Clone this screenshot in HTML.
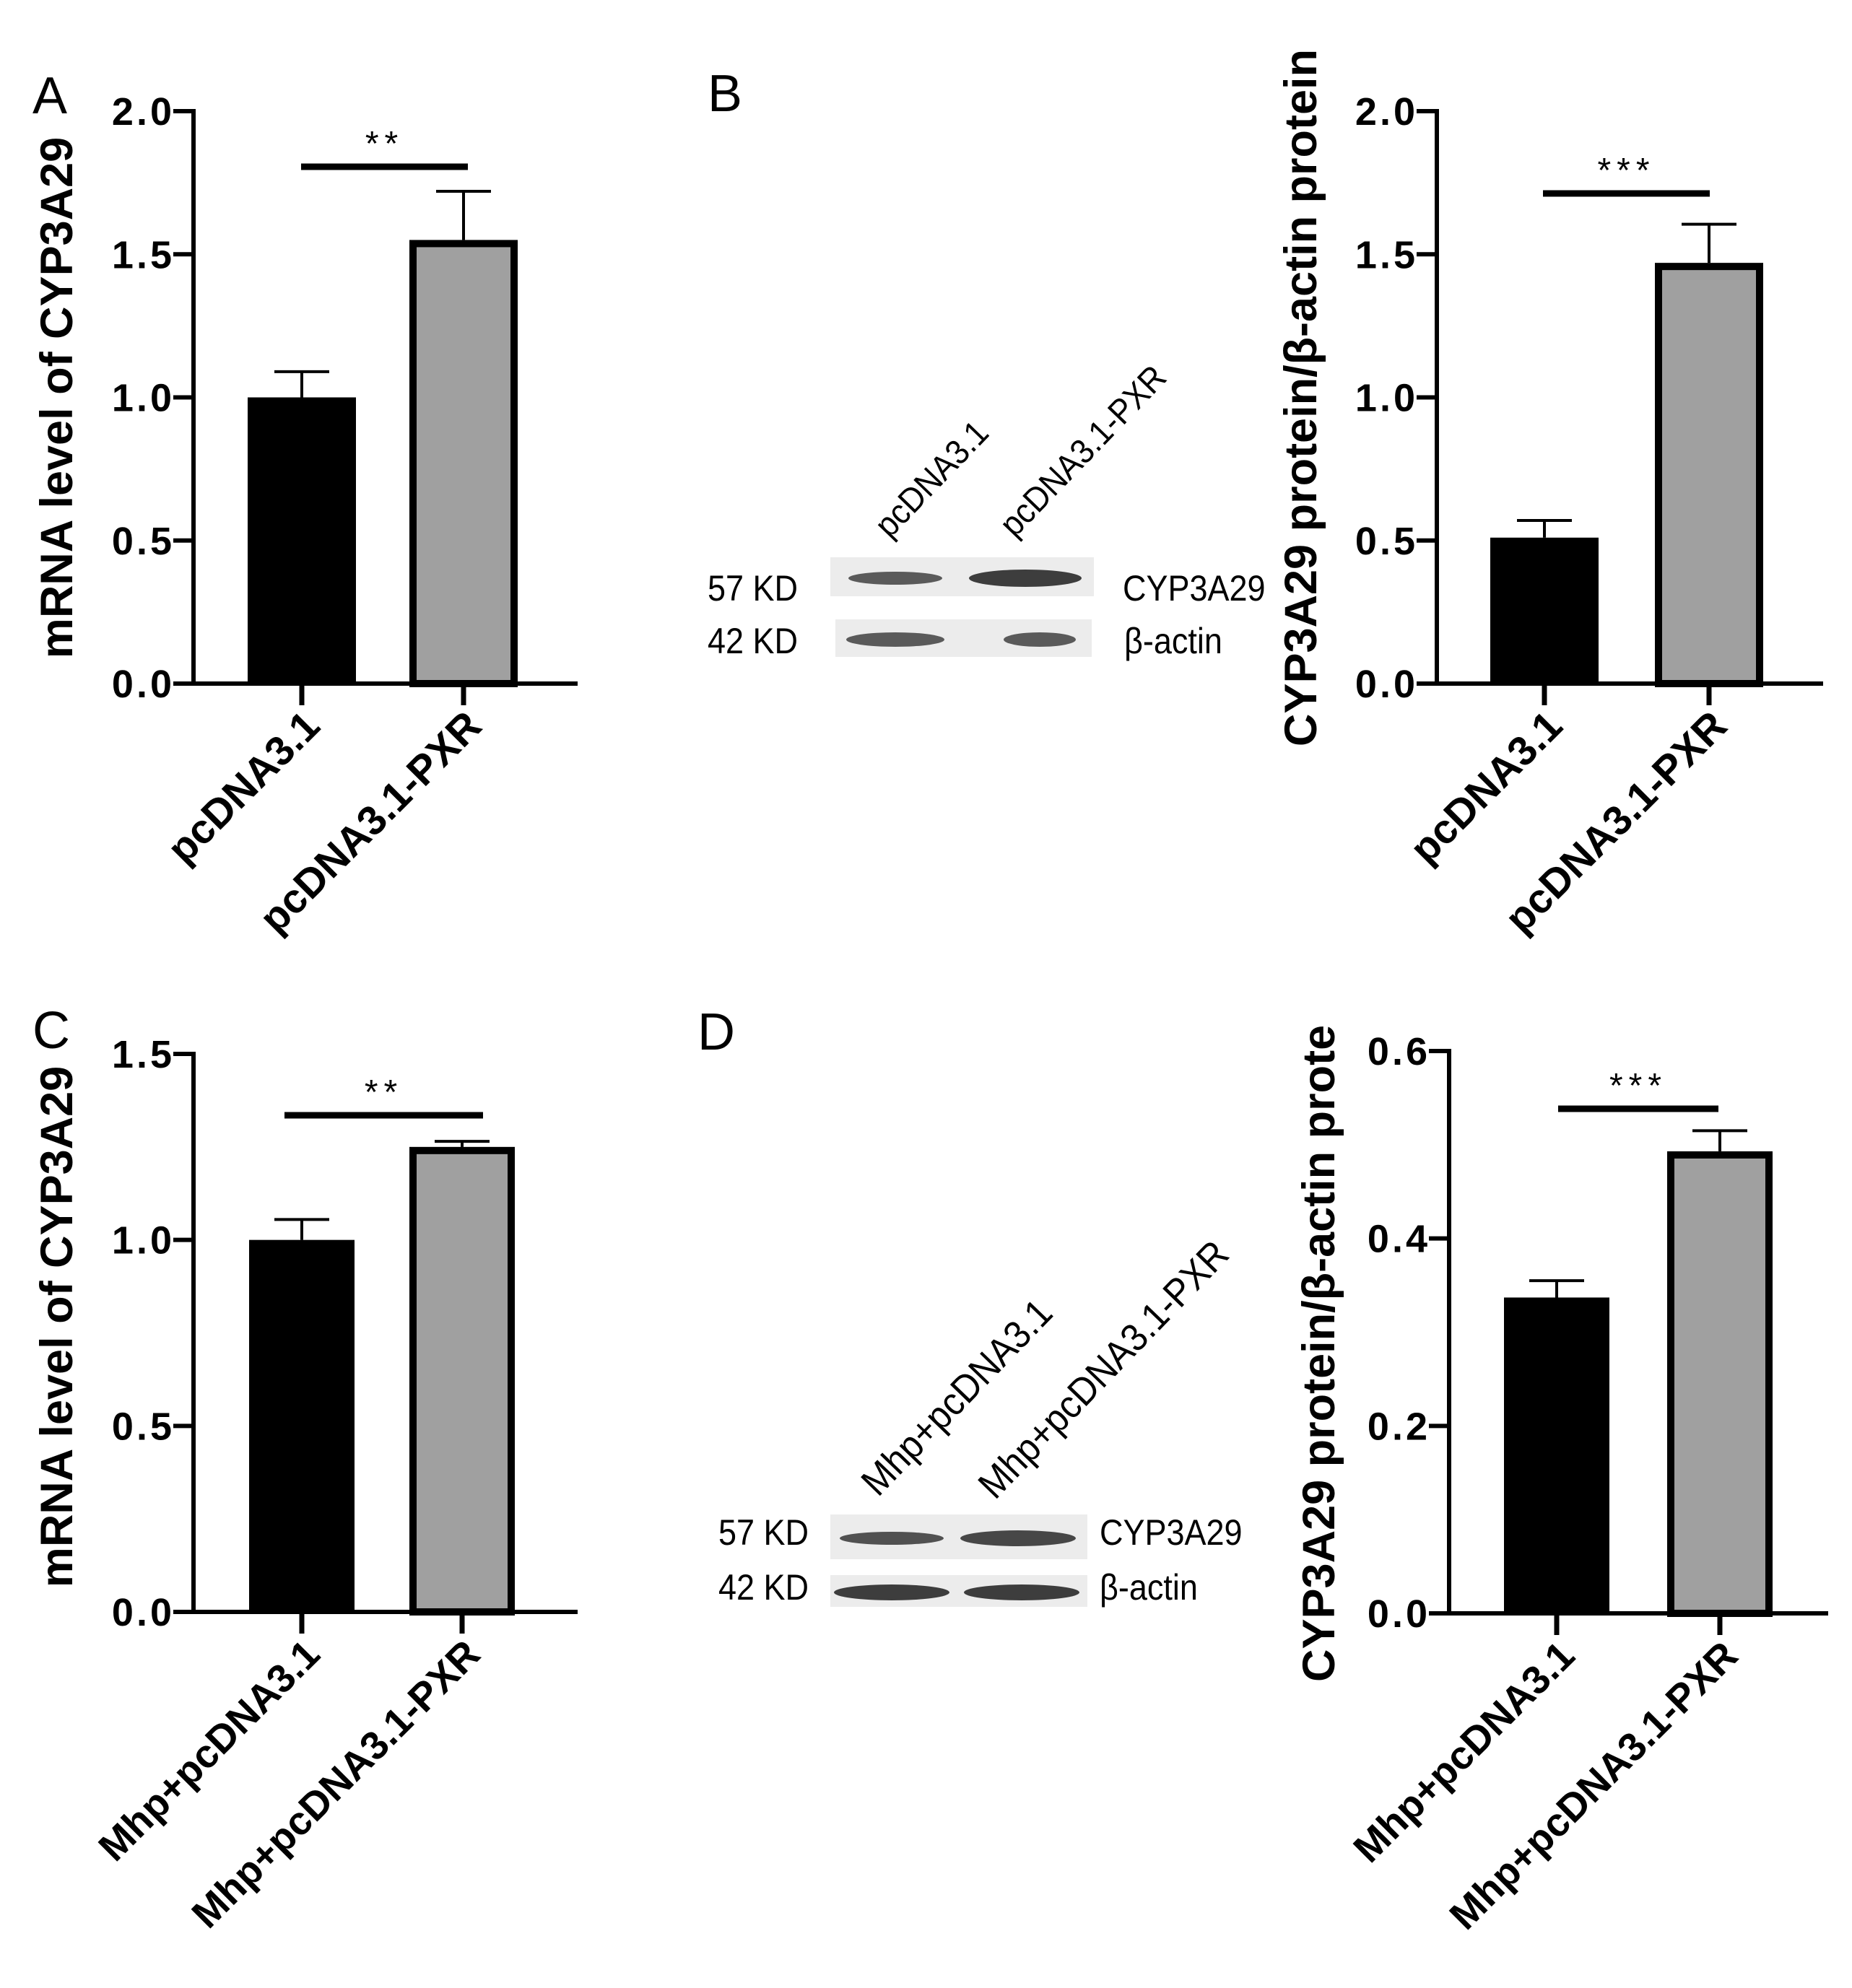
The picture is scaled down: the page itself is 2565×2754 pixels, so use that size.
<!DOCTYPE html>
<html><head><meta charset="utf-8"><style>
html,body{margin:0;padding:0;background:#fff}
svg{display:block}
.t{font-family:"Liberation Sans",Arial,sans-serif}
</style></head><body>
<svg id="fig" width="2565" height="2754" viewBox="0 0 2565 2754" xmlns="http://www.w3.org/2000/svg">
<rect width="2565" height="2754" fill="#fff"/>
<g id="charts"></g>
<g id="blots"></g>
</svg>
<script>
// Panel data
const categoriesAB = ["pcDNA3.1", "pcDNA3.1-PXR"];
const categoriesCD = ["Mhp+pcDNA3.1", "Mhp+pcDNA3.1-PXR"];
const valuesA = [1.0, 1.55];
const errorsA = [0.09, 0.17];
const valuesB = [0.51, 1.47];
const errorsB = [0.06, 0.135];
const valuesC = [1.0, 1.25];
const errorsC = [0.055, 0.015];
const valuesD = [0.337, 0.493];
const errorsD = [0.018, 0.022];
const ticksAB = [0, 0.5, 1.0, 1.5, 2.0];
const tickLabelsAB = ["0.0", "0.5", "1.0", "1.5", "2.0"];
const ticksC = [0, 0.5, 1.0, 1.5];
const tickLabelsC = ["0.0", "0.5", "1.0", "1.5"];
const ticksD = [0, 0.2, 0.4, 0.6];
const tickLabelsD = ["0.0", "0.2", "0.4", "0.6"];
const sigA = "**", sigB = "***", sigC = "**", sigD = "***";

const NS = "http://www.w3.org/2000/svg";
function mk(parent, tag, attrs, text){
  const e = document.createElementNS(NS, tag);
  for (const k in attrs) e.setAttribute(k, attrs[k]);
  if (text !== undefined) e.textContent = text;
  parent.appendChild(e);
  return e;
}
const root = document.getElementById("charts");

function chart(cfg){
  const g = mk(root, "g", {});
  
  
  const y = v => cfg.y0 - (v / cfg.max) * (cfg.y0 - cfg.yTop);
  cfg.values.forEach((v, i) => {
    const bx = cfg.barX[i], bw = cfg.barW;
    const cx = bx + bw / 2;
    const ey = y(v + cfg.errors[i]);
    const el = mk(g, "path", {d:`M${cx} ${y(v)} V${ey} M${cx-38} ${ey} H${cx+38}`, stroke:"#000", "stroke-width":4, fill:"none"});
    
    
    let r;
    if (i === 0) {
      r = mk(g, "rect", {x:bx, y:y(v), width:bw, height:cfg.y0 - y(v), fill:"#000"});
    } else {
      r = mk(g, "rect", {x:bx+5, y:y(v)+5, width:bw-10, height:cfg.y0 - y(v) - 5, fill:"#a0a0a0", stroke:"#000", "stroke-width":10});
    }
    
    
    mk(g, "line", {x1:cx, y1:cfg.y0, x2:cx, y2:cfg.y0+30, stroke:"#000", "stroke-width":7});
    const lx = cx + 28, ly = cfg.y0 + 62;
    const t = mk(g, "text", {x:lx, y:ly, "text-anchor":"end", "font-size":cfg.xfs, "font-weight":"bold", class:"t", transform:`rotate(-45 ${lx} ${ly})`}, cfg.cats[i]);
    
    
  });
  const ax = mk(g, "path", {d:`M${cfg.ax} ${cfg.yTop-3} V${cfg.y0} H${cfg.xEnd}`, stroke:"#000", "stroke-width":6, fill:"none"});
  
  
  cfg.ticks.forEach((tv, i) => {
    mk(g, "line", {x1:cfg.ax-28, y1:y(tv), x2:cfg.ax, y2:y(tv), stroke:"#000", "stroke-width":6});
    const tl = mk(g, "text", {x:cfg.ax-26, y:y(tv)+19, "text-anchor":"end", "font-size":54, "font-weight":"bold", class:"t", "letter-spacing":"4"}, cfg.tickLabels[i]);
    
    
  });
  const yt = mk(g, "text", {x:cfg.titleX, y:cfg.titleY, "text-anchor":cfg.titleAnchor||"middle", "font-size":cfg.tfs, "font-weight":"bold", class:"t", transform:`rotate(-90 ${cfg.titleX} ${cfg.titleY})`}, cfg.title);
  
  
  const sl = mk(g, "line", {x1:cfg.sig[0], y1:cfg.sig[2], x2:cfg.sig[1], y2:cfg.sig[2], stroke:"#000", "stroke-width":9});
  
  
  const st = mk(g, "text", {x:(cfg.sig[0]+cfg.sig[1])/2, y:cfg.sig[2]-16, "text-anchor":"middle", "font-size":48, class:"t", "letter-spacing":"8"}, cfg.stars);
  
  
  const pl = mk(root, "text", {x:cfg.letter[0], y:cfg.letter[1], "font-size":72, class:"t"}, cfg.letter[2]);
  
  
}

chart({name:"chart-a", values:valuesA, errors:errorsA, cats:categoriesAB, ticks:ticksAB, tickLabels:tickLabelsAB, max:2,
  ax:268, yTop:154, y0:947, xEnd:800, barX:[343,567], barW:150, xfs:57, tfs:63,
  title:"mRNA level of CYP3A29", titleX:100, titleY:551, sig:[417,648,231], stars:sigA, letter:[45,157,"A"]});
chart({name:"chart-b", values:valuesB, errors:errorsB, cats:categoriesAB, ticks:ticksAB, tickLabels:tickLabelsAB, max:2,
  ax:1990, yTop:154, y0:947, xEnd:2525, barX:[2064,2292], barW:150, xfs:57, tfs:63,
  title:"CYP3A29 protein/β-actin protein", titleX:1823, titleY:551, sig:[2137,2368,268], stars:sigB, letter:[980,154,"B"]});
chart({name:"chart-c", values:valuesC, errors:errorsC, cats:categoriesCD, ticks:ticksC, tickLabels:tickLabelsC, max:1.5,
  ax:268, yTop:1460, y0:2233, xEnd:800, barX:[345,567], barW:146, xfs:55, tfs:63,
  title:"mRNA level of CYP3A29", titleX:100, titleY:1838, sig:[394,669,1545], stars:sigC, letter:[45,1452,"C"]});
chart({name:"chart-d", values:valuesD, errors:errorsD, cats:categoriesCD, ticks:ticksD, tickLabels:tickLabelsD, max:0.6,
  ax:2007, yTop:1456, y0:2235, xEnd:2532, barX:[2083,2309], barW:146, xfs:55, tfs:63,
  title:"CYP3A29 protein/β-actin prote", titleX:1848, titleY:2330, titleAnchor:"start", sig:[2158,2380,1536], stars:sigD, letter:[966,1454,"D"]});

const bl = document.getElementById("blots");
function blot(name, rows, lanes, lab){
  const g = mk(bl, "g", {});
  
  
  rows.forEach((r, i) => {
    const bg = mk(g, "rect", {x:r.x, y:r.y, width:r.w, height:r.h, fill:"#ececec"});
    
    
    r.bands.forEach(b => {
      mk(g, "ellipse", {cx:b[0], cy:r.y + r.h/2 + 2, rx:b[1], ry:b[2], fill:"#2a2a2a", opacity:b[3]});
    });
    const kd = mk(g, "text", {x:r.kdX, y:r.base, "font-size":lab.fs, class:"t", transform:`translate(${r.kdX} 0) scale(0.9 1) translate(${-r.kdX} 0)`}, r.kd);
    
    
    const nm = mk(g, "text", {x:r.nmX, y:r.base, "font-size":lab.fs, class:"t", transform:`translate(${r.nmX} 0) scale(0.9 1) translate(${-r.nmX} 0)`}, r.nm);
    
    
  });
  lanes.forEach((l, i) => {
    const t = mk(g, "text", {x:l[0], y:l[1], "font-size":lab.lfs, class:"t", transform:`rotate(-46 ${l[0]} ${l[1]}) translate(${l[0]} 0) scale(0.92 1) translate(${-l[0]} 0)`}, l[2]);
    
    
  });
}
blot("blot-b", [
  {x:1150,y:772,w:365,h:54,kd:"57 KD",nm:"CYP3A29",kdX:980,nmX:1555,base:832,bands:[[1240,65,9,0.75],[1420,78,12,0.9]]},
  {x:1157,y:858,w:355,h:52,kd:"42 KD",nm:"β-actin",kdX:980,nmX:1557,base:905,bands:[[1240,68,10,0.75],[1440,50,10,0.75]]}
], [[1232,747,"pcDNA3.1"],[1405,746,"pcDNA3.1-PXR"]], {fs:50, lfs:48});
blot("blot-d", [
  {x:1150,y:2098,w:356,h:62,kd:"57 KD",nm:"CYP3A29",kdX:995,nmX:1523,base:2140,bands:[[1235,72,9,0.8],[1410,80,11,0.85]]},
  {x:1150,y:2182,w:356,h:44,kd:"42 KD",nm:"β-actin",kdX:995,nmX:1523,base:2216,bands:[[1235,80,11,0.9],[1415,80,11,0.9]]}
], [[1216,2075,"Mhp+pcDNA3.1"],[1378,2079,"Mhp+pcDNA3.1-PXR"]], {fs:50, lfs:54});
</script>
</body></html>
